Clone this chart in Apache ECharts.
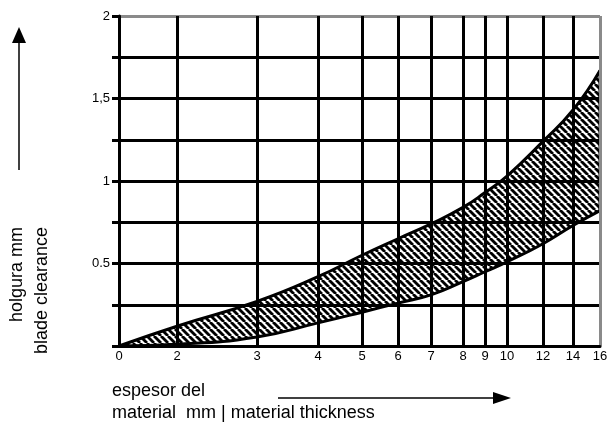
<!DOCTYPE html>
<html>
<head>
<meta charset="utf-8">
<script src="https://cdn.jsdelivr.net/npm/echarts@6/dist/echarts.min.js"></script>
<style>
    html, body { margin: 0; padding: 0; background: #fff; }
    #chart { width: 611px; height: 428px; }
</style>
</head>
<body>
<div id="chart"></div>
<script>
// espesor del material (mm)
var thickness = [0, 2, 3, 4, 5, 6, 7, 8, 9, 10, 12, 14, 16];
// holgura minima / maxima (mm)
var clearanceMin = [0, 0.01, 0.055, 0.14, 0.205, 0.26, 0.31, 0.39, 0.45, 0.51, 0.62, 0.73, 0.82];
var clearanceMax = [0, 0.12, 0.27, 0.42, 0.55, 0.65, 0.74, 0.84, 0.93, 1.03, 1.24, 1.43, 1.67];

// the x scale of the original is not linear: tick value -> position on the axis
var xTicks = [0, 2, 3, 4, 5, 6, 7, 8, 9, 10, 12, 14, 16];
var xTickPos = [0, 58, 138, 199, 243, 279, 312, 344, 366, 388, 424, 454, 481];
var yLabels = { '0.5': '0.5', '1': '1', '1.5': '1,5', '2': '2' };

function toAxis(x) {
    for (var i = 1; i < xTicks.length; i++) {
        if (x <= xTicks[i]) {
            var t = (x - xTicks[i - 1]) / (xTicks[i] - xTicks[i - 1]);
            return xTickPos[i - 1] + t * (xTickPos[i] - xTickPos[i - 1]);
        }
    }
    return xTickPos[xTickPos.length - 1];
}

// diagonal hatch tile
function hatch() {
    var c = document.createElement('canvas');
    c.width = 7;
    c.height = 7;
    var ctx = c.getContext('2d');
    ctx.strokeStyle = '#000';
    ctx.lineWidth = 2.8;
    for (var k = -1; k <= 1; k++) {
        ctx.beginPath();
        ctx.moveTo(k * 7, 0);
        ctx.lineTo(k * 7 + 7, 7);
        ctx.stroke();
    }
    return c;
}

var lowerData = thickness.map(function (t, i) { return [toAxis(t), clearanceMin[i]]; });
var upperData = thickness.map(function (t, i) { return [toAxis(t), clearanceMax[i]]; });
var last = thickness.length - 1;
var edgeData = [[toAxis(thickness[last]), clearanceMin[last]], [toAxis(thickness[last]), clearanceMax[last]]];

var xLineColors = xTickPos.map(function (p, i) { return i === xTickPos.length - 1 ? '#8a8a8a' : '#000'; });
var yLineColors = ['#000', '#000', '#000', '#000', '#000', '#000', '#000', '#000', '#8a8a8a'];

var font = 'Liberation Sans, Arial, sans-serif';

let myChart = echarts.init(document.getElementById('chart'));
let option = {
    animation: false,
    grid: { left: 119, right: 11, top: 16, bottom: 82 },
    xAxis: {
        type: 'value',
        z: 5,
        min: 0,
        max: xTickPos[xTickPos.length - 1],
        axisLine: { show: true, onZero: false, lineStyle: { color: '#000', width: 3 } },
        axisTick: { show: false, customValues: xTickPos },
        axisLabel: {
            customValues: xTickPos,
            margin: 4,
            color: '#000',
            fontSize: 13,
            fontFamily: font,
            formatter: function (v) {
                var i = xTickPos.indexOf(v);
                return i >= 0 ? String(xTicks[i]) : '';
            }
        },
        splitLine: { show: true, lineStyle: { color: xLineColors, width: 3 } }
    },
    yAxis: {
        type: 'value',
        z: 5,
        min: 0,
        max: 2,
        interval: 0.25,
        axisLine: { show: true, lineStyle: { color: '#000', width: 3 } },
        axisTick: {
            show: true,
            length: 7,
            interval: function (index) { return index % 2 === 0; },
            lineStyle: { color: '#000', width: 3 }
        },
        axisLabel: {
            margin: 9,
            color: '#000',
            fontSize: 13,
            fontFamily: font,
            formatter: function (v) { return yLabels[String(v)] || ''; }
        },
        splitLine: { show: true, lineStyle: { color: yLineColors, width: 3 } }
    },
    series: [
        {
            // obere Kurve, schraffiert bis zur Achse
            type: 'line',
            z: 2,
            data: upperData,
            smooth: 0.5,
            showSymbol: false,
            lineStyle: { color: '#000', width: 3 },
            areaStyle: { color: { image: hatch(), repeat: 'repeat' }, opacity: 1, origin: 'start' }
        },
        {
            // untere Kurve, weiss darunter
            type: 'line',
            z: 3,
            data: lowerData,
            smooth: 0.5,
            showSymbol: false,
            lineStyle: { color: '#000', width: 3 },
            areaStyle: { color: '#fff', opacity: 1, origin: 'start' }
        },
        {
            type: 'line',
            z: 3,
            data: edgeData,
            showSymbol: false,
            lineStyle: { color: '#000', width: 3 }
        }
    ],
    graphic: [
        { type: 'line', shape: { x1: 19, y1: 170, x2: 19, y2: 40 }, style: { stroke: '#000', lineWidth: 1.5 } },
        { type: 'polygon', shape: { points: [[19, 27], [12, 43], [26, 43]] }, style: { fill: '#000' } },
        {
            type: 'text', x: 17, y: 227, rotation: Math.PI / 2,
            style: { text: 'holgura mm', fill: '#000', font: '18px ' + font, textAlign: 'right', textVerticalAlign: 'middle' }
        },
        {
            type: 'text', x: 42, y: 227, rotation: Math.PI / 2,
            style: { text: 'blade clearance', fill: '#000', font: '18px ' + font, textAlign: 'right', textVerticalAlign: 'middle' }
        },
        {
            type: 'text', x: 112, y: 391,
            style: { text: 'espesor del', fill: '#000', font: '18px ' + font, textAlign: 'left', textVerticalAlign: 'middle' }
        },
        {
            type: 'text', x: 112, y: 413,
            style: { text: 'material  mm | material thickness', fill: '#000', font: '18px ' + font, textAlign: 'left', textVerticalAlign: 'middle' }
        },
        { type: 'line', shape: { x1: 278, y1: 398, x2: 496, y2: 398 }, style: { stroke: '#000', lineWidth: 1.5 } },
        { type: 'polygon', shape: { points: [[511, 398], [493, 392], [493, 404]] }, style: { fill: '#000' } }
    ]
};
myChart.setOption(option);
</script>
</body>
</html>
